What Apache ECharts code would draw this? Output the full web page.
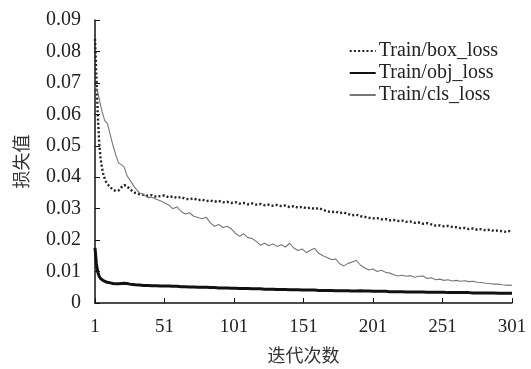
<!DOCTYPE html>
<html>
<head>
<meta charset="utf-8">
<script src="https://cdn.jsdelivr.net/npm/echarts@6/dist/echarts.min.js"></script>
<style>
  html, body { margin: 0; padding: 0; background: #fff; }
  #chart { width: 531px; height: 369px; }
</style>
</head>
<body>
<div id="chart"></div>
<script>
// epochs where values were read
const epochs = [1,2,3,4,5,6,7,8,9,10,12,14,16,18,20,22,24,26,28,30,
  33,36,39,42,45,48,51,54,57,60,63,66,69,72,75,78,81,84,87,90,
  93,96,99,102,105,108,111,114,117,120,123,126,129,132,135,138,141,144,147,150,
  153,156,159,162,165,168,171,174,177,180,183,186,189,192,195,198,201,204,207,210,
  213,216,219,222,225,228,231,234,237,240,243,246,249,252,255,258,261,264,267,270,
  273,276,279,282,285,288,291,294,297,300,301]

const boxLoss = [0.084,0.072,0.060,0.051,0.046,0.043,0.041,0.0395,0.0385,0.0378,0.0368,0.0360,0.0356,0.0358,0.0368,0.0375,0.0372,0.0362,0.0356,0.0350,
  0.0346,0.0344,0.0341,0.0343,0.0338,0.0340,0.0342,0.0336,0.0339,0.0334,0.0337,0.0331,0.0330,0.0333,0.0327,0.0329,0.0324,0.0326,0.0322,0.0325,
  0.0320,0.0322,0.0318,0.0321,0.0316,0.0318,0.0314,0.0317,0.0313,0.0315,0.0311,0.0313,0.0309,0.0312,0.0308,0.0310,0.0305,0.0308,0.0303,0.0306,
  0.0301,0.0303,0.0299,0.0302,0.0296,0.0292,0.0289,0.0291,0.0286,0.0288,0.0283,0.0279,0.0281,0.0276,0.0274,0.0271,0.0269,0.0270,0.0266,0.0267,
  0.0263,0.0264,0.0261,0.0262,0.0258,0.0259,0.0255,0.0256,0.0252,0.0254,0.0250,0.0246,0.0247,0.0244,0.0245,0.0242,0.0241,0.0238,0.0239,0.0235,
  0.0237,0.0233,0.0235,0.0231,0.0233,0.0229,0.0231,0.0228,0.0226,0.0230,0.0228]

const objLoss = [0.0175,0.0125,0.0098,0.0085,0.0078,0.0074,0.0071,0.0069,0.0067,0.0066,0.0064,0.0062,0.0061,0.0061,0.0062,0.0063,0.0062,0.0060,0.0059,0.0058,
  0.0057,0.0056,0.0056,0.0055,0.0055,0.0054,0.0054,0.0054,0.0053,0.0053,0.0052,0.0052,0.0051,0.0051,0.0050,0.0050,0.0050,0.0049,0.0049,0.0048,
  0.0048,0.0048,0.0047,0.0047,0.0046,0.0046,0.0046,0.0045,0.0045,0.0045,0.0044,0.0044,0.0044,0.0043,0.0043,0.0043,0.0042,0.0042,0.0042,0.0041,
  0.0041,0.0041,0.0041,0.0040,0.0040,0.0040,0.0040,0.0039,0.0039,0.0039,0.0039,0.0038,0.0038,0.0039,0.0038,0.0038,0.0037,0.0037,0.0037,0.0037,
  0.0036,0.0036,0.0036,0.0036,0.0035,0.0035,0.0035,0.0035,0.0035,0.0034,0.0034,0.0034,0.0034,0.0034,0.0033,0.0033,0.0033,0.0033,0.0033,0.0033,
  0.0032,0.0032,0.0032,0.0032,0.0032,0.0032,0.0031,0.0031,0.0031,0.0031,0.0031]

const clsLoss = [0.069,0.0685,0.067,0.065,0.063,0.061,0.0595,0.058,0.0585,0.0570,0.0535,0.0500,0.0470,0.0445,0.0440,0.0432,0.0405,0.0392,0.0378,0.0365,
  0.0350,0.0345,0.0335,0.0336,0.0330,0.0325,0.0318,0.0312,0.0300,0.0306,0.0291,0.0283,0.0287,0.0276,0.0272,0.0268,0.0273,0.0255,0.0244,0.0250,
  0.0240,0.0244,0.0236,0.0222,0.0212,0.0220,0.0208,0.0205,0.0196,0.0184,0.0190,0.0182,0.0188,0.0180,0.0185,0.0178,0.0190,0.0175,0.0167,0.0172,
  0.0160,0.0168,0.0174,0.0158,0.0150,0.0145,0.0138,0.0140,0.0125,0.0118,0.0126,0.0130,0.0136,0.0120,0.0112,0.0105,0.0108,0.0100,0.0104,0.0098,
  0.0095,0.0090,0.0086,0.0088,0.0085,0.0087,0.0082,0.0085,0.0086,0.0078,0.0080,0.0074,0.0076,0.0072,0.0074,0.0070,0.0072,0.0069,0.0071,0.0068,
  0.0069,0.0066,0.0065,0.0063,0.0062,0.0060,0.0060,0.0058,0.0057,0.0056,0.0057]

const seriesNames = ["Train/box_loss", "Train/obj_loss", "Train/cls_loss"]

const serif = "'Liberation Serif', 'Times New Roman', serif"
const cjk = "'Noto Sans CJK SC', sans-serif"

// x axis runs 0..300 so ticks land on 1, 51, 101 ...
const pairs = (vals) => epochs.map((e, i) => [e - 1, vals[i]])

const chart = echarts.init(document.getElementById("chart"), null, { renderer: "canvas" })

chart.setOption({
  backgroundColor: "#fff",
  animation: false,
  grid: { left: 95, right: 19, top: 20, bottom: 64, containLabel: false },
  legend: {
    orient: "vertical",
    right: 28,
    top: 36,
    itemGap: 2,
    itemWidth: 26,
    itemHeight: 20,
    // hide the circle ECharts puts on line legend icons
    itemStyle: { color: "transparent", borderColor: "transparent", borderWidth: 0, opacity: 0 },
    textStyle: { fontFamily: serif, fontSize: 20, color: "#222", padding: [0, 0, 0, -2] },
    data: seriesNames,
  },
  xAxis: {
    type: "value",
    min: 0,
    max: 300,
    interval: 50,
    name: "迭代次数",
    nameLocation: "middle",
    nameGap: 43,
    nameTextStyle: { fontFamily: cjk, fontSize: 18, color: "#333" },
    axisLine: { lineStyle: { color: "#111", width: 1.5 } },
    axisTick: { inside: true, length: 5, lineStyle: { color: "#111" } },
    axisLabel: {
      fontFamily: serif, fontSize: 19, color: "#222", margin: 15,
      formatter: (v) => String(v + 1),
    },
    splitLine: { show: false },
  },
  yAxis: {
    type: "value",
    min: 0,
    max: 0.09,
    interval: 0.01,
    name: "损失值",
    nameLocation: "middle",
    nameGap: 65,
    nameTextStyle: { fontFamily: cjk, fontSize: 18, color: "#333" },
    axisLine: { show: true, lineStyle: { color: "#111", width: 1.5 } },
    axisTick: { show: true, inside: true, length: 5, lineStyle: { color: "#111" } },
    axisLabel: { fontFamily: serif, fontSize: 20, color: "#222", margin: 14 },
    splitLine: { show: false },
  },
  series: [
    {
      name: seriesNames[0],
      type: "line",
      data: pairs(boxLoss),
      symbol: "none",
      color: "#222",
      lineStyle: { color: "#222", width: 2.4, type: [2, 2.2] },
    },
    {
      name: seriesNames[1],
      type: "line",
      data: pairs(objLoss),
      symbol: "none",
      color: "#111",
      lineStyle: { color: "#111", width: 3 },
    },
    {
      name: seriesNames[2],
      type: "line",
      data: pairs(clsLoss),
      symbol: "none",
      color: "#777",
      lineStyle: { color: "#777", width: 1.1 },
    },
  ],
})
</script>
</body>
</html>
